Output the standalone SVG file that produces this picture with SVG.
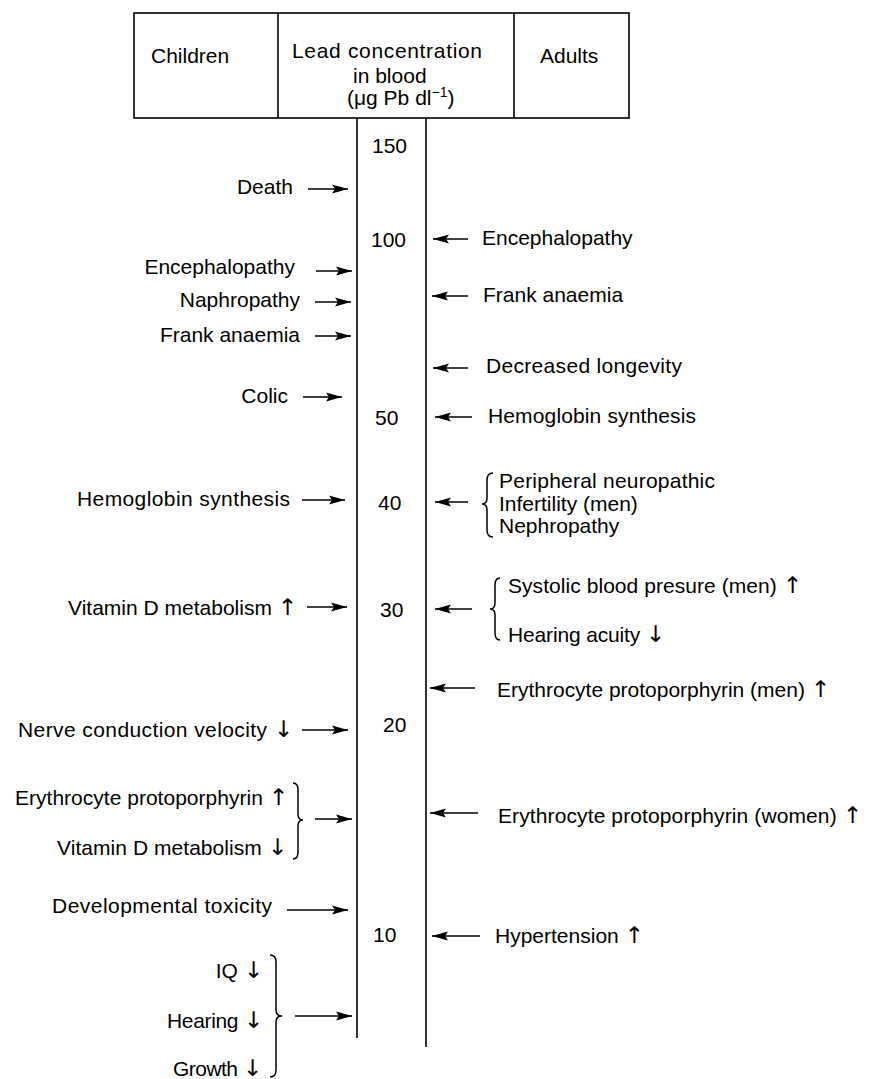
<svg xmlns="http://www.w3.org/2000/svg" width="873" height="1079" viewBox="0 0 873 1079">
<style>
text{font-family:"Liberation Sans",Arial,Helvetica,sans-serif;font-size:21px;fill:#000}
.e{text-anchor:end}
.a{font-family:"DejaVu Sans",sans-serif;font-size:23px;fill:#000}
.ln{stroke:#000;stroke-width:1.6;fill:none}
.br{stroke:#000;stroke-width:1.5;fill:none}
.ar{stroke:#000;stroke-width:1.5;fill:none;marker-end:url(#ah)}
</style>
<defs>
<marker id="ah" markerWidth="17" markerHeight="10" refX="16" refY="5" orient="auto" markerUnits="userSpaceOnUse">
<path d="M0,0.5 L16,5 L0,9.5 L3,5 Z" fill="#000"/>
</marker>
</defs>
<rect width="873" height="1079" fill="#fff"/>
<g id="header">
<rect class="ln" x="134" y="13" width="495" height="105"/>
<line class="ln" x1="278" y1="13" x2="278" y2="118"/>
<line class="ln" x1="514" y1="13" x2="514" y2="118"/>
<g id="h-children"><text x="151" y="63">Children</text></g>
<g id="h-lead"><text x="292" y="58" textLength="190">Lead concentration</text>
<text x="353" y="83">in blood</text>
<text x="347" y="105">(μg Pb dl<tspan font-size="14" dy="-8">−1</tspan><tspan dy="8">)</tspan></text></g>
<g id="h-adults"><text x="540" y="63">Adults</text></g>
</g>
<g id="scale">
<line class="ln" x1="357" y1="118" x2="357" y2="1038"/>
<line class="ln" x1="426" y1="118" x2="426" y2="1047"/>
<text x="372" y="153">150</text>
<text x="371" y="247">100</text>
<text x="375" y="425">50</text>
<text x="378" y="510">40</text>
<text x="380" y="617">30</text>
<text x="383" y="732">20</text>
<text x="373" y="942">10</text>
</g>
<g id="children-labels">
<g id="c-death"><text class="e" x="293" y="194">Death</text></g>
<g id="c-enceph"><text class="e" x="295" y="274">Encephalopathy</text></g>
<g id="c-naph"><text class="e" x="300" y="307">Naphropathy</text></g>
<g id="c-frank"><text class="e" x="300" y="342">Frank anaemia</text></g>
<g id="c-colic"><text class="e" x="288" y="403">Colic</text></g>
<g id="c-hemo"><text x="77" y="506" textLength="213">Hemoglobin  synthesis</text></g>
<g id="c-vitd-up"><text x="68" y="615" textLength="229">Vitamin D metabolism <tspan class="a">↑</tspan></text></g>
<g id="c-nerve"><text x="18" y="737" textLength="275">Nerve  conduction  velocity <tspan class="a">↓</tspan></text></g>
<g id="c-ery-vitd">
<text x="15" y="805" textLength="273">Erythrocyte  protoporphyrin <tspan class="a">↑</tspan></text>
<text x="57" y="855" textLength="230">Vitamin D metabolism <tspan class="a">↓</tspan></text>
<path class="br" d="M293,783 Q298,783 298,790 L298,814 Q298,820 303,820 Q298,820 298,826 L298,852 Q298,859 293,859"/>
</g>
<g id="c-dev"><text x="52" y="913" textLength="220">Developmental  toxicity</text></g>
<g id="c-iq-hearing-growth">
<text class="e" x="263" y="978">IQ <tspan class="a">↓</tspan></text>
<text x="167" y="1028" textLength="96">Hearing <tspan class="a">↓</tspan></text>
<text x="173" y="1076" textLength="89">Growth <tspan class="a">↓</tspan></text>
<path class="br" d="M270,955 Q276,955 276,962 L276,1010 Q276,1016 282,1016 Q276,1016 276,1022 L276,1070 Q276,1077 270,1077"/>
</g>
</g>
<g id="adult-labels">
<g id="a-enceph"><text x="482" y="245">Encephalopathy</text></g>
<g id="a-frank"><text x="483" y="302">Frank anaemia</text></g>
<g id="a-longevity"><text x="486" y="373" textLength="196">Decreased  longevity</text></g>
<g id="a-hemo"><text x="488" y="423" textLength="208">Hemoglobin  synthesis</text></g>
<g id="a-group40">
<text x="499" y="488" textLength="216">Peripheral  neuropathic</text>
<text x="499" y="511">Infertility (men)</text>
<text x="499" y="533">Nephropathy</text>
<path class="br" d="M493,473 Q487,473 487,480 L487,498 Q487,504 482,504 Q487,504 487,510 L487,530 Q487,537 493,537"/>
</g>
<g id="a-group30">
<text x="508" y="593" textLength="294">Systolic  blood  presure  (men) <tspan class="a">↑</tspan></text>
<text x="508" y="642" textLength="157">Hearing  acuity <tspan class="a">↓</tspan></text>
<path class="br" d="M500,578 Q495,578 495,585 L495,603 Q495,609 490,609 Q495,609 495,615 L495,633 Q495,640 500,640"/>
</g>
<g id="a-ery-men"><text x="497" y="697" textLength="333">Erythrocyte  protoporphyrin  (men) <tspan class="a">↑</tspan></text></g>
<g id="a-ery-women"><text x="498" y="823" textLength="364">Erythrocyte  protoporphyrin (women)  <tspan class="a">↑</tspan></text></g>
<g id="a-hyper"><text x="495" y="943">Hypertension <tspan class="a">↑</tspan></text></g>
</g>
<g id="connectors">
<line class="ar" x1="308" y1="189" x2="348" y2="189"/>
<line class="ar" x1="316" y1="271" x2="352" y2="271"/>
<line class="ar" x1="315" y1="302" x2="351" y2="302"/>
<line class="ar" x1="315" y1="336" x2="351" y2="336"/>
<line class="ar" x1="303" y1="397" x2="342" y2="397"/>
<line class="ar" x1="302" y1="500" x2="345" y2="500"/>
<line class="ar" x1="307" y1="607" x2="347" y2="607"/>
<line class="ar" x1="302" y1="730" x2="348" y2="730"/>
<line class="ar" x1="315" y1="819" x2="352" y2="819"/>
<line class="ar" x1="287" y1="910" x2="348" y2="910"/>
<line class="ar" x1="295" y1="1016" x2="352" y2="1016"/>
<line class="ar" x1="468" y1="239" x2="433" y2="239"/>
<line class="ar" x1="468" y1="296" x2="432" y2="296"/>
<line class="ar" x1="468" y1="368" x2="433" y2="368"/>
<line class="ar" x1="472" y1="417" x2="435" y2="417"/>
<line class="ar" x1="468" y1="502" x2="435" y2="502"/>
<line class="ar" x1="472" y1="609" x2="435" y2="609"/>
<line class="ar" x1="475" y1="688" x2="430" y2="688"/>
<line class="ar" x1="478" y1="813" x2="430" y2="813"/>
<line class="ar" x1="480" y1="936" x2="432" y2="936"/>
</g>
</svg>
